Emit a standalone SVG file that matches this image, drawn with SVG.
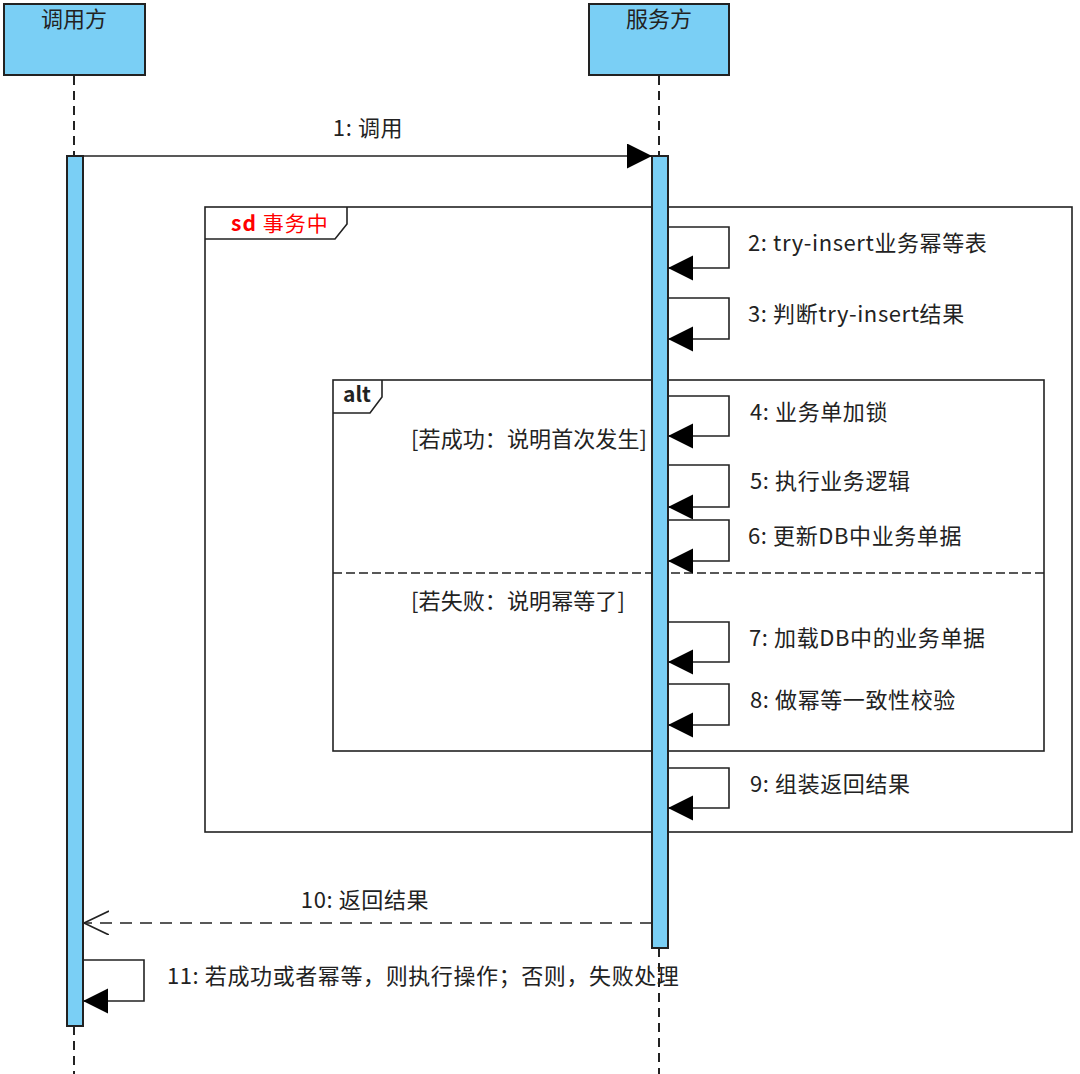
<svg xmlns="http://www.w3.org/2000/svg" width="1080" height="1074" viewBox="0 0 1080 1074">
<style>
text{font-family:"Noto Sans CJK SC","Noto Sans",sans-serif;font-size:22px;letter-spacing:0.6px;fill:#222}
.head{fill:#7ACFF5;stroke:#222;stroke-width:2}
.act{fill:#7ACFF5;stroke:#222;stroke-width:2}
.life{stroke:#222;stroke-width:2;stroke-dasharray:9 6;fill:none}
.frame{fill:none;stroke:#222;stroke-width:1.6}
.msg{fill:none;stroke:#222;stroke-width:1.6}
.ret{fill:none;stroke:#222;stroke-width:1.6;stroke-dasharray:12 8}
.sep{fill:none;stroke:#222;stroke-width:1.6;stroke-dasharray:9 4}
.head-t{text-anchor:middle;font-size:22px;letter-spacing:0}
</style>
<defs>
<marker id="fill" markerWidth="26" markerHeight="26" refX="25" refY="12.5" orient="auto" markerUnits="userSpaceOnUse">
<path d="M0,0 L25,12.5 L0,25 Z" fill="#000"/>
</marker>
<marker id="open" markerWidth="28" markerHeight="28" refX="25" refY="12" orient="auto" markerUnits="userSpaceOnUse">
<path d="M0,0 L25,12 L0,24" fill="none" stroke="#222" stroke-width="1.6"/>
</marker>
</defs>
<g id="lifelines">
<line class="life" x1="74" y1="76" x2="74" y2="156"/>
<line class="life" x1="74" y1="1026" x2="74" y2="1074"/>
<line class="life" x1="659" y1="76" x2="659" y2="156"/>
<line class="life" x1="659" y1="948" x2="659" y2="1074"/>
</g>
<g id="caller">
<rect class="head" x="4" y="4" width="141" height="71"/>
<text class="head-t" x="74" y="27">调用方</text>
</g>
<g id="server">
<rect class="head" x="589" y="4" width="140" height="71"/>
<text class="head-t" x="659" y="27">服务方</text>
</g>
<g id="frame-sd">
<rect class="frame" x="205" y="207" width="867" height="625"/>
<path class="frame" d="M205,239 L335,239 L347,224 L347,207"/>
<text x="231" y="231" style="fill:#ff0000;font-size:21px;letter-spacing:1px"><tspan font-weight="bold">sd</tspan> 事务中</text>
</g>
<g id="frame-alt">
<rect class="frame" x="333" y="380" width="711" height="371"/>
<path class="frame" d="M333,413 L370,413 L382,397 L382,380"/>
<text x="343" y="402" style="font-weight:bold;font-size:21px;letter-spacing:0">alt</text>
<line class="sep" x1="333" y1="573" x2="1044" y2="573"/>
<text x="411" y="447" style="letter-spacing:0.1px">[若成功：说明首次发生]</text>
<text x="411" y="609" style="letter-spacing:0.1px">[若失败：说明幂等了]</text>
</g>
<g id="activations">
<rect class="act" x="67" y="156" width="16" height="870"/>
<rect class="act" x="652" y="156" width="16" height="792"/>
</g>
<g id="connectors">
<line class="msg" x1="83" y1="156" x2="652" y2="156" marker-end="url(#fill)"/>
<path class="msg" d="M668,227 H729 V268 H668" marker-end="url(#fill)"/>
<path class="msg" d="M668,298 H729 V339 H668" marker-end="url(#fill)"/>
<path class="msg" d="M668,396 H729 V436 H668" marker-end="url(#fill)"/>
<path class="msg" d="M668,465 H729 V507 H668" marker-end="url(#fill)"/>
<path class="msg" d="M668,520 H729 V561 H668" marker-end="url(#fill)"/>
<path class="msg" d="M668,622 H729 V662 H668" marker-end="url(#fill)"/>
<path class="msg" d="M668,684 H729 V725 H668" marker-end="url(#fill)"/>
<path class="msg" d="M668,768 H729 V808 H668" marker-end="url(#fill)"/>
<line class="ret" x1="652" y1="923" x2="84" y2="923" marker-end="url(#open)"/>
<path class="msg" d="M83,960 H144 V1001 H83" marker-end="url(#fill)"/>
</g>
<g id="labels">
<text x="368" y="136" text-anchor="middle">1: 调用</text>
<text x="748" y="251">2: try-insert业务幂等表</text>
<text x="748" y="322">3: 判断try-insert结果</text>
<text x="750" y="420">4: 业务单加锁</text>
<text x="750" y="489">5: 执行业务逻辑</text>
<text x="748" y="544">6: 更新DB中业务单据</text>
<text x="749" y="646">7: 加载DB中的业务单据</text>
<text x="750" y="708">8: 做幂等一致性校验</text>
<text x="750" y="792">9: 组装返回结果</text>
<text x="365" y="908" text-anchor="middle">10: 返回结果</text>
<text x="167" y="984">11: 若成功或者幂等，则执行操作；否则，失败处理</text>
</g>
</svg>
